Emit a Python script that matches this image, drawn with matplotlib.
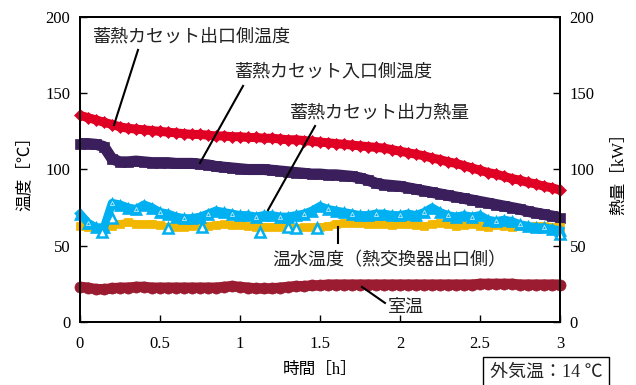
import matplotlib
matplotlib.use("Agg")
import matplotlib.pyplot as plt
import numpy as np

plt.rcParams['font.family'] = ['Liberation Serif', 'Noto Sans CJK JP']

# time axis [h], every 0.05 h
time_h = [round(i * 0.05, 2) for i in range(61)]

outlet_temp = [135.5, 134, 132.5, 131, 129.5, 128, 127, 126.5, 126, 125.5,
               125, 124.5, 124, 123.5, 123, 123, 122.5, 122, 122, 121.5,
               121.5, 121, 121, 120.5, 120.5, 120, 119.5, 119.5, 119, 118.5,
               118, 117.5, 117, 116.5, 116, 115.5, 115, 114.5, 114, 113,
               112, 111, 110, 109, 107.5, 106.5, 105, 104, 102.5, 101,
               99.5, 98, 97, 95.5, 94, 93, 91.5, 90.5, 89, 88, 86.5]

inlet_temp = [117, 117, 116.5, 115, 107, 105, 105, 105.5, 105, 104.5,
              104.5, 104.5, 104, 104, 104, 103.5, 103, 102, 101.5, 101,
              100.5, 100, 100, 100, 99.5, 99, 98.5, 98, 97.5, 97,
              97, 96.5, 96.5, 96, 95.5, 94.5, 93, 91, 90, 89.5,
              89, 88, 87, 86, 85, 84, 83, 82, 81, 80,
              79, 78, 77, 76, 75, 74, 72.5, 71.5, 70.5, 69.5, 68.5]

hot_water_temp = [63, 62.5, 61.5, 61, 63, 64.5, 65.5, 64.5, 64, 64.5,
                  63.5, 62.5, 62, 62, 63, 63.5, 63, 63.5, 64, 63.5,
                  63.5, 63, 62.5, 62.5, 62.5, 62.5, 62, 61.5, 62, 62,
                  62.5, 63, 64.5, 65, 65, 65, 64.5, 64.5, 64, 63.5,
                  64, 64.5, 63.5, 63, 64, 65, 64, 63, 63.5, 64,
                  63, 62.5, 63.5, 63, 62.5, 63, 62.5, 63, 63, 62.5, 62.5]

room_temp = [23, 22.5, 21.5, 21.5, 22, 22.5, 22.5, 23, 23, 22.5,
             22.5, 22.5, 22.5, 22.5, 22.5, 22.5, 22.5, 22.5, 23, 23.5,
             23, 22.5, 22, 22, 22, 22.5, 23, 23.5, 23.5, 24,
             24, 24.5, 24.5, 24.5, 24.5, 24.5, 24.5, 24.5, 24.5, 24.5,
             24.5, 24.5, 24.5, 24.5, 24.5, 24.5, 24.5, 24.5, 24.5, 24.5,
             25, 25, 25, 25, 25, 24.5, 24.5, 24.5, 24.5, 24.5, 24.5]

heat_output = [71, 65, 62, 62, 78, 77, 75, 74, 77, 75,
               72, 71, 69, 68, 68, 69, 71, 73, 72, 71,
               70, 70, 69, 70, 70, 69, 69, 70, 71, 73,
               76, 74, 73, 72, 71, 70, 70, 71, 71, 70,
               70, 71, 70, 72, 75, 72, 70, 69, 70, 69,
               70, 67, 66, 67, 66, 64, 63, 62, 62, 61, 60]

# scattered low readings of heat output
heat_out_t = [0.14, 0.2, 0.55, 0.76, 1.125, 1.3, 1.35, 1.48, 3.0]
heat_out_v = [59, 68, 61.5, 62.5, 59, 62, 61.5, 61.5, 58]

x_ticks = [0, 0.5, 1, 1.5, 2, 2.5, 3]
x_tick_labels = ['0', '0.5', '1', '1.5', '2', '2.5', '3']
y_ticks = [0, 50, 100, 150, 200]

fig = plt.figure(figsize=(6.36, 3.85), dpi=100)
ax = fig.add_axes([80/636, 63/385, 480/636, 305/385])
ax2 = ax.twinx()

def band(a, y, color, marker, ms, lw):
    a.plot(time_h, y, linestyle='-', lw=lw, color=color, solid_capstyle='butt',
           marker=marker, ms=ms, mfc=color, mec=color, mew=0.5, zorder=3,
           clip_on=False)

band(ax, room_temp, '#9B1B30', 'o', 8, 7.5)
band(ax, outlet_temp, '#E00024', 'D', 6.5, 6.5)
band(ax, inlet_temp, '#3B1F5C', 's', 7.5, 8)
band(ax, hot_water_temp, '#F2B700', 's', 5.5, 5)

ax2.plot(time_h, heat_output, linestyle='-', lw=6, color='#00B0F0',
         marker='^', ms=8, mfc='#00B0F0', mec='#00B0F0', mew=0.5, zorder=3,
         clip_on=False)
ax2.plot(time_h[1::3], heat_output[1::3], linestyle='none', marker='^', ms=3,
         mfc='none', mec='#bfe9fb', mew=0.6, zorder=3)
ax2.plot(heat_out_t, heat_out_v, linestyle='none', marker='^', ms=7,
         mfc='white', mec='#00B0F0', mew=1.8, zorder=3, clip_on=False)

for a in (ax, ax2):
    a.set_xlim(0, 3)
    a.set_ylim(0, 200)
    a.set_yticks(y_ticks)
    a.tick_params(direction='in', length=5, width=1, labelsize=12)
    for s in a.spines.values():
        s.set_linewidth(1.3)
        s.set_zorder(10)
ax.set_xticks(x_ticks)
ax.set_xticklabels(x_tick_labels)
ax.tick_params(axis='x', pad=10)
ax.tick_params(axis='y', pad=7)
ax2.tick_params(axis='y', pad=7)

ax.set_ylabel('温度［℃］', fontsize=12, labelpad=9)
ax2.set_ylabel('熱量［kW］', fontsize=12, labelpad=12)
ax.set_xlabel('時間［h］', fontsize=12, labelpad=7)

tc = '#222222'
anns = [
    ('蓄熱カセット出口側温度', (0.2125, 129.2), (0.3625, 178.4), (0.08, 187)),
    ('蓄熱カセット入口側温度', (0.75, 104.3), (1.019, 154.8), (0.97, 164)),
    ('蓄熱カセット出力熱量', (1.175, 73.4), (1.469, 128.5), (1.31, 137)),
    ('温水温度（熱交換器出口側）', (1.61, 62.3), (1.61, 51.8), (1.205, 40.5)),
    ('室温', (1.7625, 23), (1.906, 12.5), (1.925, 9.5)),
]
for text, p_end, p_start, p_text in anns:
    ax2.plot([p_start[0], p_end[0]], [p_start[1], p_end[1]], color='black',
             lw=1.5, zorder=5, clip_on=False)
    ax2.text(p_text[0], p_text[1], text, fontsize=13, color=tc,
             ha='left', va='center', zorder=6)

fig.text(546/636, 1 - 372/385, '外気温：14 ℃', fontsize=13, color=tc,
         ha='center', va='center',
         bbox=dict(boxstyle='square,pad=0.35', fc='white', ec='black', lw=1))

fig.savefig('out.png', dpi=100)
